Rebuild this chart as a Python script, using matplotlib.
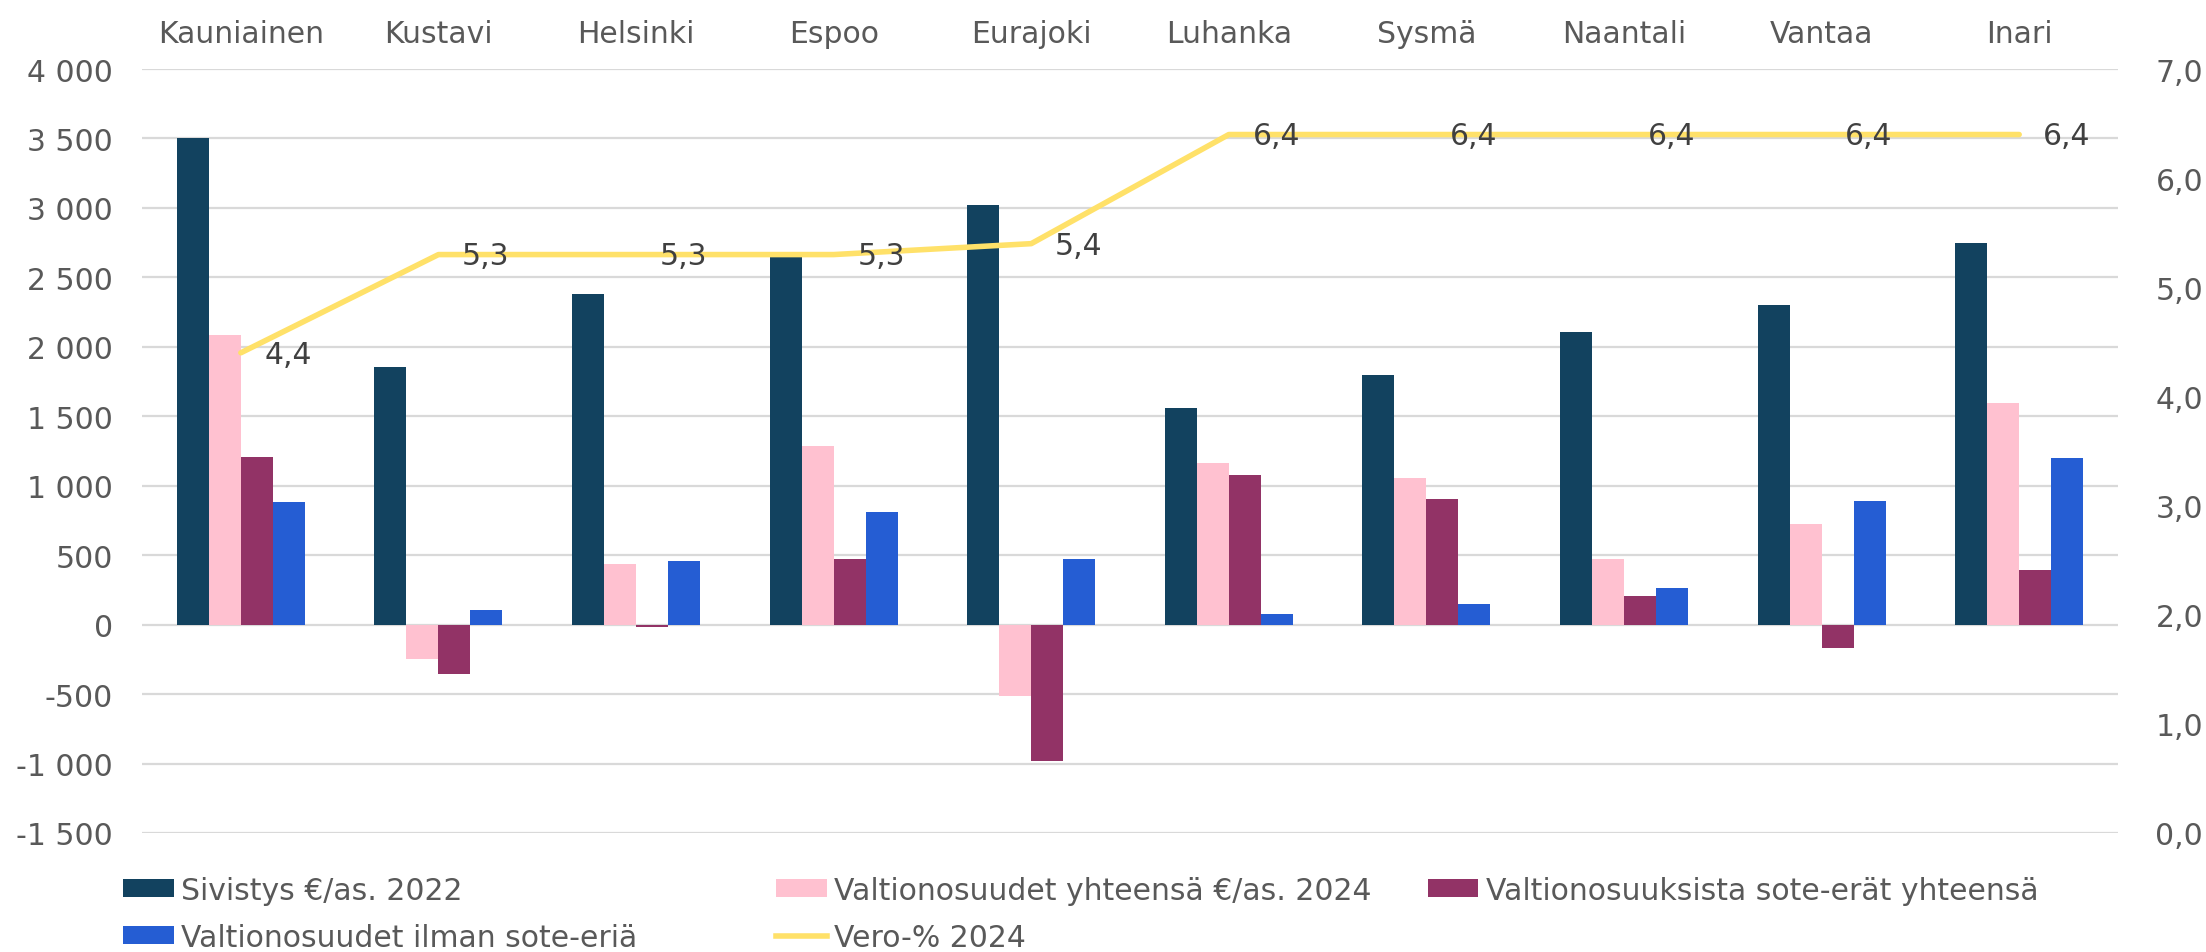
import matplotlib.pyplot as plt
from matplotlib.lines import Line2D
from matplotlib.ticker import FuncFormatter
import numpy as np

plt.rcParams["font.family"] = ["DejaVu Sans"]

# data
kunnat = ["Kauniainen", "Kustavi", "Helsinki", "Espoo", "Eurajoki",
          "Luhanka", "Sysmä", "Naantali", "Vantaa", "Inari"]
sivistys_2022 = [3505, 1855, 2380, 2645, 3020, 1560, 1795, 2110, 2300, 2750]
valtionosuudet_2024 = [2085, -245, 440, 1285, -515, 1165, 1055, 475, 725, 1595]
sote_erat = [1205, -355, -15, 475, -985, 1075, 905, 205, -170, 395]
ilman_sote = [885, 105, 460, 810, 470, 80, 145, 265, 890, 1200]
vero_2024 = [4.4, 5.3, 5.3, 5.3, 5.4, 6.4, 6.4, 6.4, 6.4, 6.4]

sarjat = [
    ("Sivistys €/as. 2022", sivistys_2022, "#12425F"),
    ("Valtionosuudet yhteensä €/as. 2024", valtionosuudet_2024, "#FFC1D0"),
    ("Valtionosuuksista sote-erät yhteensä", sote_erat, "#923366"),
    ("Valtionosuudet ilman sote-eriä", ilman_sote, "#255DD3"),
]
keltainen = "#FFE169"
teksti = "#595959"
fs = 21.5

fig = plt.figure(figsize=(22.06, 9.53), dpi=100)
ax = fig.add_axes([0.0644, 0.1249, 0.8957, 0.8016])

x = np.arange(len(kunnat))
w = 0.162
palkit = []
for i, (nimi, arvot, vari) in enumerate(sarjat):
    b = ax.bar(x + (i - 1.5) * w, arvot, w, color=vari, label=nimi, zorder=2)
    palkit.append(b)

ax.set_xlim(-0.5, len(kunnat) - 0.5)
ax.set_ylim(-1500, 4000)
ax.set_yticks(np.arange(-1500, 4001, 500))
ax.yaxis.set_major_formatter(FuncFormatter(lambda v, p: f"{v:,.0f}".replace(",", " ")))
ax.grid(axis="y", color="#D9D9D9", lw=1.6)
ax.set_axisbelow(True)
ax.xaxis.tick_top()
ax.set_xticks(x)
ax.set_xticklabels(kunnat)
ax.tick_params(axis="x", length=0, pad=15, labelsize=fs, labelcolor=teksti)
ax.tick_params(axis="y", length=0, pad=21, labelsize=fs, labelcolor=teksti)
for s in ax.spines.values():
    s.set_visible(False)

# toinen akseli veroprosentille
ax2 = ax.twinx()
ax2.plot(x, vero_2024, color=keltainen, lw=4, solid_capstyle="round", zorder=3)
ax2.set_ylim(0, 7)
ax2.set_yticks(np.arange(0, 7.01, 1))
ax2.yaxis.set_major_formatter(FuncFormatter(lambda v, p: f"{v:.1f}".replace(".", ",")))
ax2.tick_params(axis="y", length=0, pad=27, labelsize=fs, labelcolor=teksti)
for s in ax2.spines.values():
    s.set_visible(False)
for xi, v in zip(x, vero_2024):
    ax2.annotate(f"{v:.1f}".replace(".", ","), (xi, v), xytext=(17, -1),
                 textcoords="offset points", va="center", ha="left",
                 fontsize=fs, color="#404040")

# selite kolmessa sarakkeessa
viiva = Line2D([], [], color=keltainen, lw=4)
sarakkeet = [
    ([palkit[0], palkit[3]], [sarjat[0][0], sarjat[3][0]], 0.0558),
    ([palkit[1], viiva], [sarjat[1][0], "Vero-% 2024"], 0.3518),
    ([palkit[2]], [sarjat[2][0]], 0.6471),
]
for kahvat, nimet, xpos in sarakkeet:
    fig.legend(kahvat, nimet, loc="upper left", bbox_to_anchor=(xpos, 0.080),
               frameon=False, borderpad=0, borderaxespad=0, fontsize=fs,
               labelcolor=teksti, handlelength=1.7, handleheight=0.55,
               handletextpad=0.25, labelspacing=0.6)

plt.savefig("out.png", dpi=100)
